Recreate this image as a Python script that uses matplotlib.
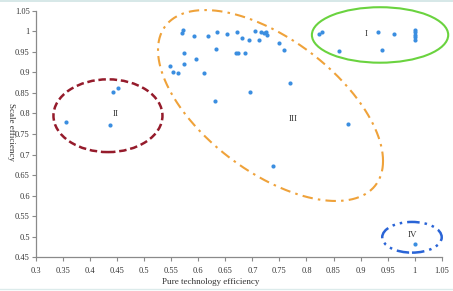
import numpy as np
import matplotlib
matplotlib.use("Agg")
import matplotlib.pyplot as plt
from matplotlib.patches import Ellipse
from matplotlib.lines import Line2D
from matplotlib.ticker import FuncFormatter, MultipleLocator

# pure technology efficiency (x) and scale efficiency (y) per unit
pte = [0.355, 0.436, 0.442, 0.452,
       0.547, 0.553, 0.562, 0.570, 0.572, 0.574, 0.574, 0.592, 0.596,
       0.611, 0.618, 0.631, 0.633, 0.635, 0.653, 0.670, 0.672, 0.673,
       0.681, 0.686, 0.694, 0.695, 0.705, 0.712, 0.715, 0.722, 0.726,
       0.727, 0.739, 0.750, 0.758, 0.770, 0.876,
       0.823, 0.829, 0.861, 0.932, 0.940, 0.961,
       1.0, 1.0, 1.0, 1.0, 1.0, 1.0]
se = [0.778, 0.772, 0.852, 0.862,
      0.916, 0.902, 0.898, 0.996, 1.003, 0.948, 0.920, 0.989, 0.932,
      0.899, 0.989, 0.830, 0.958, 0.999, 0.993, 0.948, 0.997, 0.948,
      0.984, 0.948, 0.979, 0.852, 1.000, 0.979, 0.997, 0.995, 0.997,
      0.992, 0.673, 0.971, 0.954, 0.875, 0.774,
      0.994, 0.998, 0.951, 0.999, 0.954, 0.994,
      1.003, 0.997, 0.991, 0.985, 0.979, 0.482]

group_labels = ["I", "II", "III", "IV"]
group_label_x = [0.910, 0.447, 0.775, 0.996]
group_label_y = [0.994, 0.799, 0.786, 0.504]

plt.rcParams["font.family"] = ["Liberation Serif", "DejaVu Serif"]

fig = plt.figure(figsize=(4.53, 2.91), dpi=100)
ax = fig.add_axes([0.0795, 0.1158, 0.8956, 0.8474])

ax.scatter(pte, se, s=9, color="#3b8ee0", zorder=3, linewidths=0)

# group I
ax.add_patch(Ellipse((0.936, 0.991), 0.252, 0.135, fill=False,
                     edgecolor="#6ad33f", lw=1.5, clip_on=False))
# group II
ax.add_patch(Ellipse((0.433, 0.7945), 0.2015, 0.177, fill=False,
                     edgecolor="#951b2b", lw=1.8, ls=(0, (3, 1.5)), clip_on=False))
# group III (tilted)
t = np.linspace(0, 2 * np.pi, 400)
ex = 0.7335 + 0.208 * np.cos(t)
ey = 0.8193 - 0.135 * np.cos(t) - 0.189 * np.sin(t)
ax.plot(ex, ey, color="#efa23a", lw=1.5, ls=(0, (5, 2.5, 1.2, 2.5)), clip_on=False)
# group IV
ax.add_patch(Ellipse((0.995, 0.4987), 0.11, 0.0747, fill=False,
                     edgecolor="#2a64d6", lw=1.8, ls=(0, (5, 2, 1, 2, 1, 2)), clip_on=False))

for lab, lx, ly in zip(group_labels, group_label_x, group_label_y):
    ax.text(lx, ly, lab, fontsize=6.5, color="#333333", ha="center", va="center")

ax.set_xlim(0.3, 1.05)
ax.set_ylim(0.45, 1.05)
ax.xaxis.set_major_locator(MultipleLocator(0.05))
ax.yaxis.set_major_locator(MultipleLocator(0.05))
fmt = FuncFormatter(lambda v, p: f"{round(v, 2):g}")
ax.xaxis.set_major_formatter(fmt)
ax.yaxis.set_major_formatter(fmt)

for side in ["top", "right"]:
    ax.spines[side].set_visible(False)
for side in ["left", "bottom"]:
    ax.spines[side].set_color("#8a8a8a")
    ax.spines[side].set_linewidth(0.9)
ax.tick_params(axis="both", labelsize=6, colors="#8a8a8a", labelcolor="#333333",
               length=3, width=0.8)
ax.tick_params(axis="x", pad=4)
ax.tick_params(axis="y", pad=1.5)

ax.set_xlabel("Pure technology efficiency", fontsize=6.5, color="#333333")
ax.xaxis.set_label_coords(0.43, -0.085)
ax.set_ylabel("Scale efficiency", fontsize=6.5, color="#333333", rotation=-90,
              ha="center", va="center")
ax.yaxis.set_label_coords(-0.062, 0.509)

# thin frame lines at top and bottom of the image
fig.add_artist(Line2D([0, 1], [0.998, 0.998], color="#cfe4e4", lw=1.2))
fig.add_artist(Line2D([0, 1], [0.008, 0.008], color="#dcebeb", lw=1.0))

fig.savefig("out.png", dpi=100)
